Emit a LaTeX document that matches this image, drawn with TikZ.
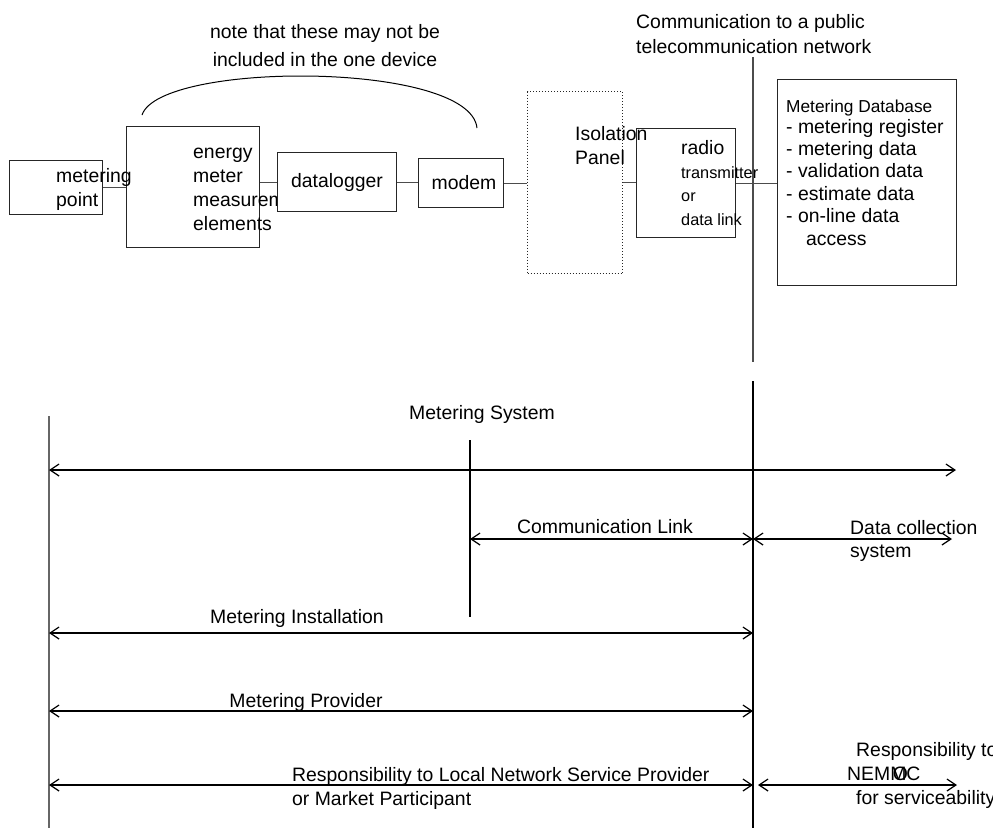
\documentclass[tikz,border=0pt]{standalone}
\usepackage{fontspec}
\setmainfont{Liberation Sans}
\usetikzlibrary{arrows.meta}
\newcommand{\mainsize}{\fontsize{19.4}{23.7}\selectfont}
\newcommand{\smallsize}{\fontsize{16.3}{24}\selectfont}
\begin{document}
\begin{tikzpicture}[x=1pt,y=-1pt,
  box/.style={draw=black!85, line width=1pt, inner sep=0, anchor=north west},
  wbox/.style={box, fill=white},
  link/.style={draw=black!70, line width=1pt},
  txt/.style={inner sep=0, align=left, font=\mainsize, anchor=base west},
  ctxt/.style={inner sep=0, align=center, font=\mainsize, anchor=base},
  span/.style={line width=1.2pt, {Straight Barb[length=9pt,width=12pt]}-{Straight Barb[length=9pt,width=12pt]}},
  divider/.style={line width=1.6pt, black},
  greyline/.style={line width=1.4pt, black!60}
]
\useasboundingbox (0,0) rectangle (993,828);

% ---- equipment chain (multi-line labels are placed by their last baseline) ----
\node[box, minimum width=93pt, minimum height=54pt] (mp) at (9,160) {};
\node[box, minimum width=133pt, minimum height=121pt] (em) at (126,126) {};
\node[txt] (emtext) at (193,230) {energy\\meter\\measurements\\elements};
\node[wbox, minimum width=119pt, minimum height=59pt, font=\mainsize] (dl) at (277,152) {datalogger};
\node[box, minimum width=85pt, minimum height=49pt, font=\mainsize] (mo) at (418,158) {\hspace{6pt}modem};
\node[box, dotted, line width=1.1pt, minimum width=95pt, minimum height=182pt] (iso) at (527,91) {};
\node[box, minimum width=99pt, minimum height=109pt] (rad) at (636,128) {};
\node[box, minimum width=179pt, minimum height=206pt] (db) at (777,79) {};

\draw[link] (mp.east) -- (mp.east -| em.west);
\draw[link] (dl.west -| em.east) -- (dl.west);
\draw[link] (dl.east) -- (dl.east -| mo.west);
\draw[link] (mo.east) -- (mo.east -| iso.west);
\draw[link] (iso.east) -- (iso.east -| rad.west);
\draw[link] (rad.east) -- (rad.east -| db.west);

\node[txt] (mptext) at (56,206) {metering\\point};
\node[txt] (isotext) at (575,164) {Isolation\\Panel};
\node[txt, font=\fontsize{19.4}{23.5}\selectfont] (radtext) at (681,225)
  {radio\\{\smallsize transmitter}\\{\smallsize or}\\{\smallsize data link}};
\node[txt, font=\fontsize{19.4}{22.4}\selectfont] (dbtext) at (786,245)
  {{\fontsize{17.3}{21}\selectfont Metering Database}\\[-1.4pt]
   - metering register\\- metering data\\- validation data\\- estimate data\\
   - on-line data\\\hspace{20pt}access};

% ---- note over the metering devices ----
\coordinate (arcL) at (142,115);
\coordinate (arcR) at (477,128);
\draw[line width=1pt] (arcL) .. controls (160,61) and (470,61) .. (arcR);
\node[ctxt, font=\fontsize{19.4}{28}\selectfont] (note) at (325,66)
  {note that these may not be\\included in the one device};

% ---- public network boundary ----
\coordinate (nettop) at (753,57);
\coordinate (netbot) at (753,362);
\draw[line width=1.1pt, black!70] (nettop) -- (netbot);
\node[txt, font=\fontsize{19.4}{25}\selectfont] (nettext) at (636,53)
  {Communication to a public\\telecommunication network};

% ---- responsibility spans ----
\coordinate (Ltop) at (49,416);
\coordinate (Lbot) at (49,828);
\coordinate (Mtop) at (470,440);
\coordinate (Mbot) at (470,617);
\coordinate (Rtop) at (753,381);
\coordinate (Rbot) at (753,828);
\draw[greyline] (Ltop) -- (Lbot);
\draw[divider] (Mtop) -- (Mbot);
\draw[divider] (Rtop) -- (Rbot);

\coordinate (sysL) at (49,470);
\coordinate (sysR) at (956,470);
\draw[span] (sysL) -- (sysR);
\node[ctxt] (systext) at (482,419) {Metering System};

\coordinate (clL) at (470,539);
\coordinate (clR) at (753,539);
\draw[span] (clL) -- (clR);
\node[ctxt] (cltext) at (605,533) {Communication Link};

\coordinate (dcR) at (952,539);
\draw[span] (clR) -- (dcR);
\node[txt, font=\fontsize{19.4}{23}\selectfont] (dctext) at (850,557) {Data collection\\system};

\coordinate (miL) at (49,633);
\coordinate (miR) at (753,633);
\draw[span] (miL) -- (miR);
\node[ctxt] (mitext) at (297,623) {Metering Installation};

\coordinate (mpL) at (49,711);
\coordinate (mpR) at (753,711);
\draw[span] (mpL) -- (mpR);
\node[ctxt] (mprtext) at (306,707) {Metering Provider};

\coordinate (rlL) at (49,785);
\coordinate (rlR) at (753,785);
\draw[span] (rlL) -- (rlR);
\node[txt, font=\fontsize{19.4}{24}\selectfont] (rltext) at (292,805)
  {Responsibility to Local Network Service Provider\\or Market Participant};

\coordinate (rnL) at (758,785);
\coordinate (rnR) at (957,785);
\draw[span] (rnL) -- (rnR);
\node[txt, font=\fontsize{19.4}{24}\selectfont] (rntext) at (847,804)
  {\hspace{9pt}Responsibility to\\NEM\rlap{\hspace{2.5pt}O}MC\\\hspace{9pt}for serviceability};
\end{tikzpicture}
\end{document}
